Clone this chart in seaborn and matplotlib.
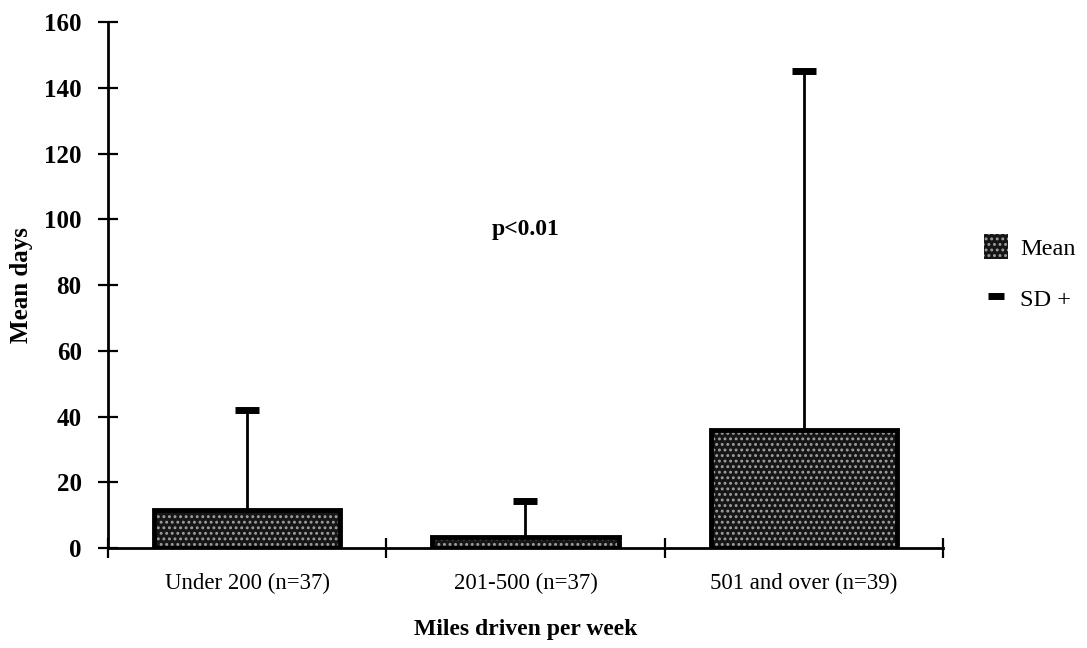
import matplotlib
matplotlib.use("Agg")
import matplotlib.pyplot as plt
from matplotlib.lines import Line2D
from matplotlib.patches import Patch
import seaborn as sns
import numpy as np

# Mean days lost by weekly mileage group, with +1 SD
categories = ["Under 200 (n=37)", "201-500 (n=37)", "501 and over (n=39)"]
mean_days = [11.5, 3.5, 36.0]
sd_plus = [30.5, 11.0, 109.0]
y_ticks = [0, 20, 40, 60, 80, 100, 120, 140, 160]

sns.set_theme(style="white")
plt.rcParams["font.family"] = ["Liberation Serif", "DejaVu Serif"]
plt.rcParams["hatch.linewidth"] = 1.3
plt.rcParams["text.color"] = "black"
plt.rcParams["axes.labelcolor"] = "black"
plt.rcParams["xtick.color"] = "black"
plt.rcParams["ytick.color"] = "black"

fig = plt.figure(figsize=(10.87, 6.48), dpi=100)
ax = fig.add_axes([0.0994, 0.154, 0.768, 0.812])

x = np.arange(len(categories))
bar_w = 0.67
fill_dark = "#161616"
dot_light = "#a0a0a0"

# stippled fill: dark face with light dot hatch
sns.barplot(x=categories, y=mean_days, ax=ax, width=bar_w,
            color=fill_dark, saturation=1, linewidth=0, zorder=2)
for p in ax.patches:
    p.set_hatch("...")
    p.set_edgecolor(dot_light)
    p.set_linewidth(0)
# solid black outline over the stipple
ax.bar(x, mean_days, width=bar_w, fill=False, edgecolor="black",
       linewidth=3.5, zorder=3)

# upper SD whiskers with a heavy cap at the top only
tops = np.array(mean_days) + np.array(sd_plus)
ax.vlines(x, mean_days, tops, colors="black", linewidth=2, zorder=4)
ax.plot(x, tops, linestyle="none", marker="_", markersize=17,
        markeredgewidth=5, color="black", zorder=5)

ax.set_xlim(-0.5, 2.5)
ax.set_ylim(0, 160)
ax.set_yticks(y_ticks)
ax.set_yticklabels([str(v) for v in y_ticks], fontsize=18, fontweight="bold")

ax.set_xticks([-0.5, 0.5, 1.5, 2.5])
ax.set_xticklabels([])
ax.set_xticks(x, minor=True)
ax.set_xticklabels(categories, minor=True, fontsize=16.5)
ax.tick_params(axis="x", which="minor", bottom=False, length=0, pad=18)
ax.tick_params(axis="x", which="major", bottom=True, direction="inout",
               length=14, width=1.6)
ax.tick_params(axis="y", left=True, direction="inout", length=14,
               width=1.6, pad=12)

for s in ["top", "right"]:
    ax.spines[s].set_visible(False)
for s in ["left", "bottom"]:
    ax.spines[s].set_linewidth(2)
    ax.spines[s].set_color("black")

ax.set_ylabel("Mean days", fontsize=18, fontweight="bold", labelpad=8)
ax.set_xlabel("Miles driven per week", fontsize=17, fontweight="bold",
              labelpad=18)

ax.text(1.0, 97, "p<0.01", ha="center", va="center", fontsize=17,
        fontweight="bold")

handles = [
    Patch(facecolor=fill_dark, edgecolor=dot_light, hatch="...", linewidth=0),
    Line2D([], [], linestyle="none", marker="_", markersize=12,
           markeredgewidth=5, color="black"),
]
fig.legend(handles, ["Mean", "SD +"], loc="upper left",
           bbox_to_anchor=(0.885, 0.672), frameon=False, fontsize=17.5,
           labelspacing=1.05, handlelength=1.0, handleheight=1.2,
           handletextpad=0.5)

fig.savefig("out.png", dpi=100, facecolor="white")
